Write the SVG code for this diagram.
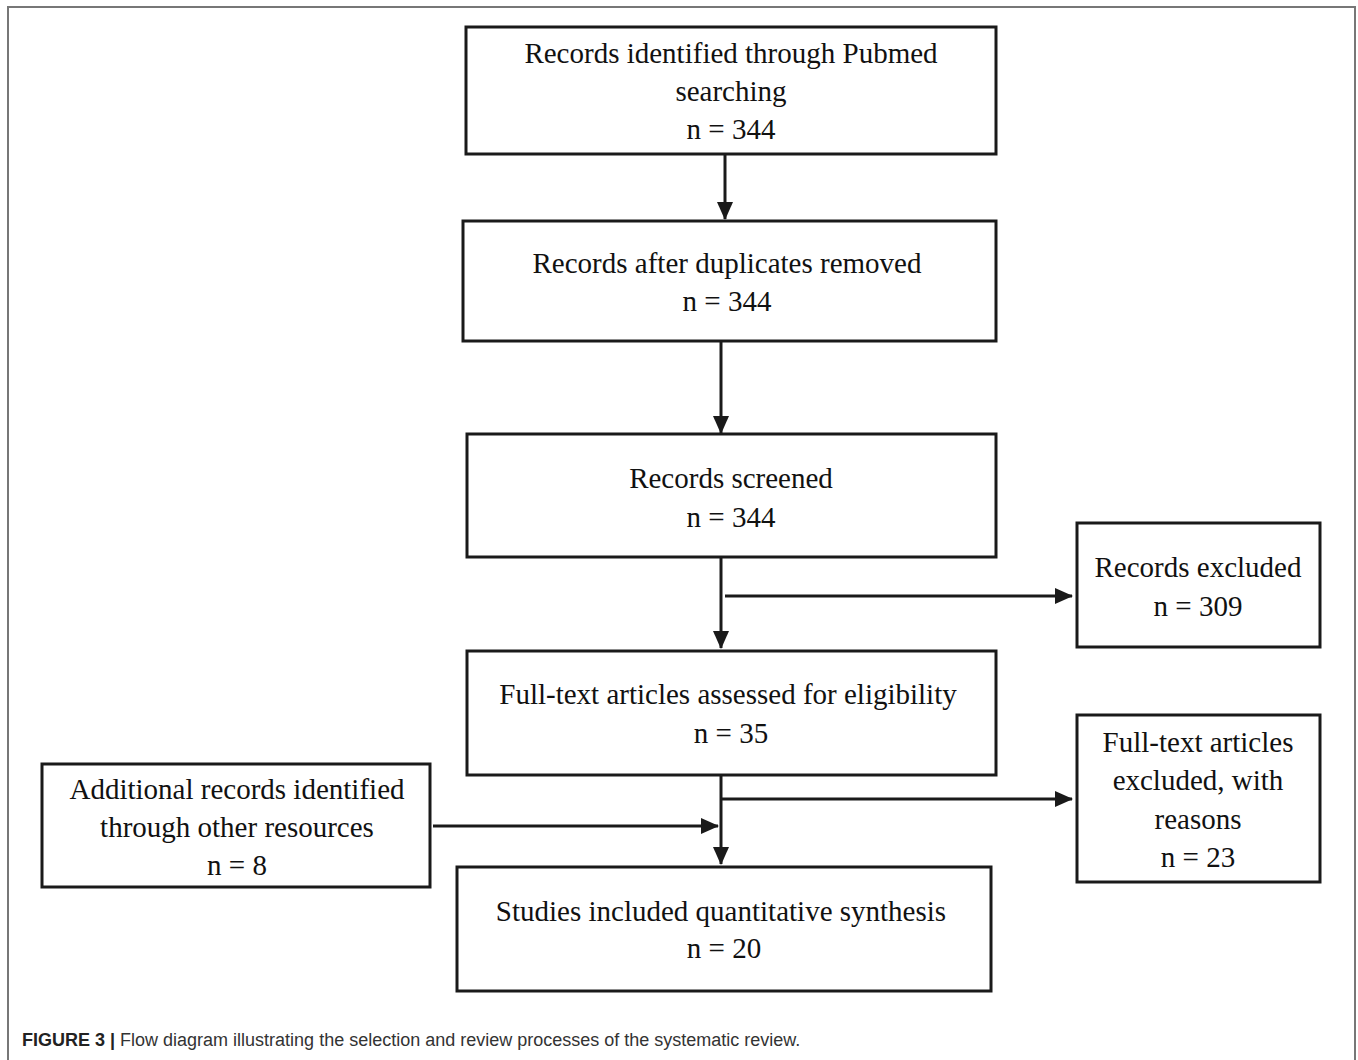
<svg xmlns="http://www.w3.org/2000/svg" width="1358" height="1060" viewBox="0 0 1358 1060">
<style>
.box{fill:#fff;stroke:#1a1a1a;stroke-width:3}
.t{font-family:"Liberation Serif","DejaVu Serif",serif;font-size:29px;fill:#111;text-anchor:middle}
.c{stroke:#1a1a1a;stroke-width:3;fill:none}
.cap{font-family:"Liberation Sans",Arial,sans-serif;font-size:18px;fill:#333}
</style>
<defs>
<marker id="ah" markerWidth="18" markerHeight="16" refX="17" refY="8" orient="auto" markerUnits="userSpaceOnUse">
<path d="M0,0 L18,8 L0,16 Z" fill="#1a1a1a"/>
</marker>
</defs>
<rect width="1358" height="1060" fill="#fff"/>
<path d="M8,1060 V7 H1355 V1060" fill="none" stroke="#777" stroke-width="2"/>
<g id="connectors">
<line class="c" x1="725" y1="154" x2="725" y2="219" marker-end="url(#ah)"/>
<line class="c" x1="721" y1="341" x2="721" y2="433" marker-end="url(#ah)"/>
<line class="c" x1="721" y1="557" x2="721" y2="648" marker-end="url(#ah)"/>
<line class="c" x1="725" y1="596" x2="1072" y2="596" marker-end="url(#ah)"/>
<line class="c" x1="721" y1="775" x2="721" y2="864" marker-end="url(#ah)"/>
<line class="c" x1="720" y1="799" x2="1072" y2="799" marker-end="url(#ah)"/>
<line class="c" x1="433" y1="826" x2="718" y2="826" marker-end="url(#ah)"/>
</g>
<g id="n1"><rect class="box" x="466" y="27" width="530" height="127"/>
<text class="t" x="731" y="63">Records identified through Pubmed</text>
<text class="t" x="731" y="101">searching</text>
<text class="t" x="731" y="139">n = 344</text></g>
<g id="n2"><rect class="box" x="463" y="221" width="533" height="120"/>
<text class="t" x="727" y="273">Records after duplicates removed</text>
<text class="t" x="727" y="311">n = 344</text></g>
<g id="n3"><rect class="box" x="467" y="434" width="529" height="123"/>
<text class="t" x="731" y="488">Records screened</text>
<text class="t" x="731" y="527">n = 344</text></g>
<g id="n4"><rect class="box" x="1077" y="523" width="243" height="124"/>
<text class="t" x="1198" y="577">Records excluded</text>
<text class="t" x="1198" y="616">n = 309</text></g>
<g id="n5"><rect class="box" x="467" y="651" width="529" height="124"/>
<text class="t" x="728" y="704">Full-text articles assessed for eligibility</text>
<text class="t" x="731" y="743">n = 35</text></g>
<g id="n6"><rect class="box" x="1077" y="715" width="243" height="167"/>
<text class="t" x="1198" y="752">Full-text articles</text>
<text class="t" x="1198" y="790">excluded, with</text>
<text class="t" x="1198" y="829">reasons</text>
<text class="t" x="1198" y="867">n = 23</text></g>
<g id="n7"><rect class="box" x="42" y="764" width="388" height="123"/>
<text class="t" x="237" y="799">Additional records identified</text>
<text class="t" x="237" y="837">through other resources</text>
<text class="t" x="237" y="875">n = 8</text></g>
<g id="n8"><rect class="box" x="457" y="867" width="534" height="124"/>
<text class="t" x="721" y="921">Studies included quantitative synthesis</text>
<text class="t" x="724" y="958">n = 20</text></g>
<text class="cap" x="22" y="1046"><tspan font-weight="bold" fill="#222">FIGURE 3 |</tspan> Flow diagram illustrating the selection and review processes of the systematic review.</text>
</svg>
